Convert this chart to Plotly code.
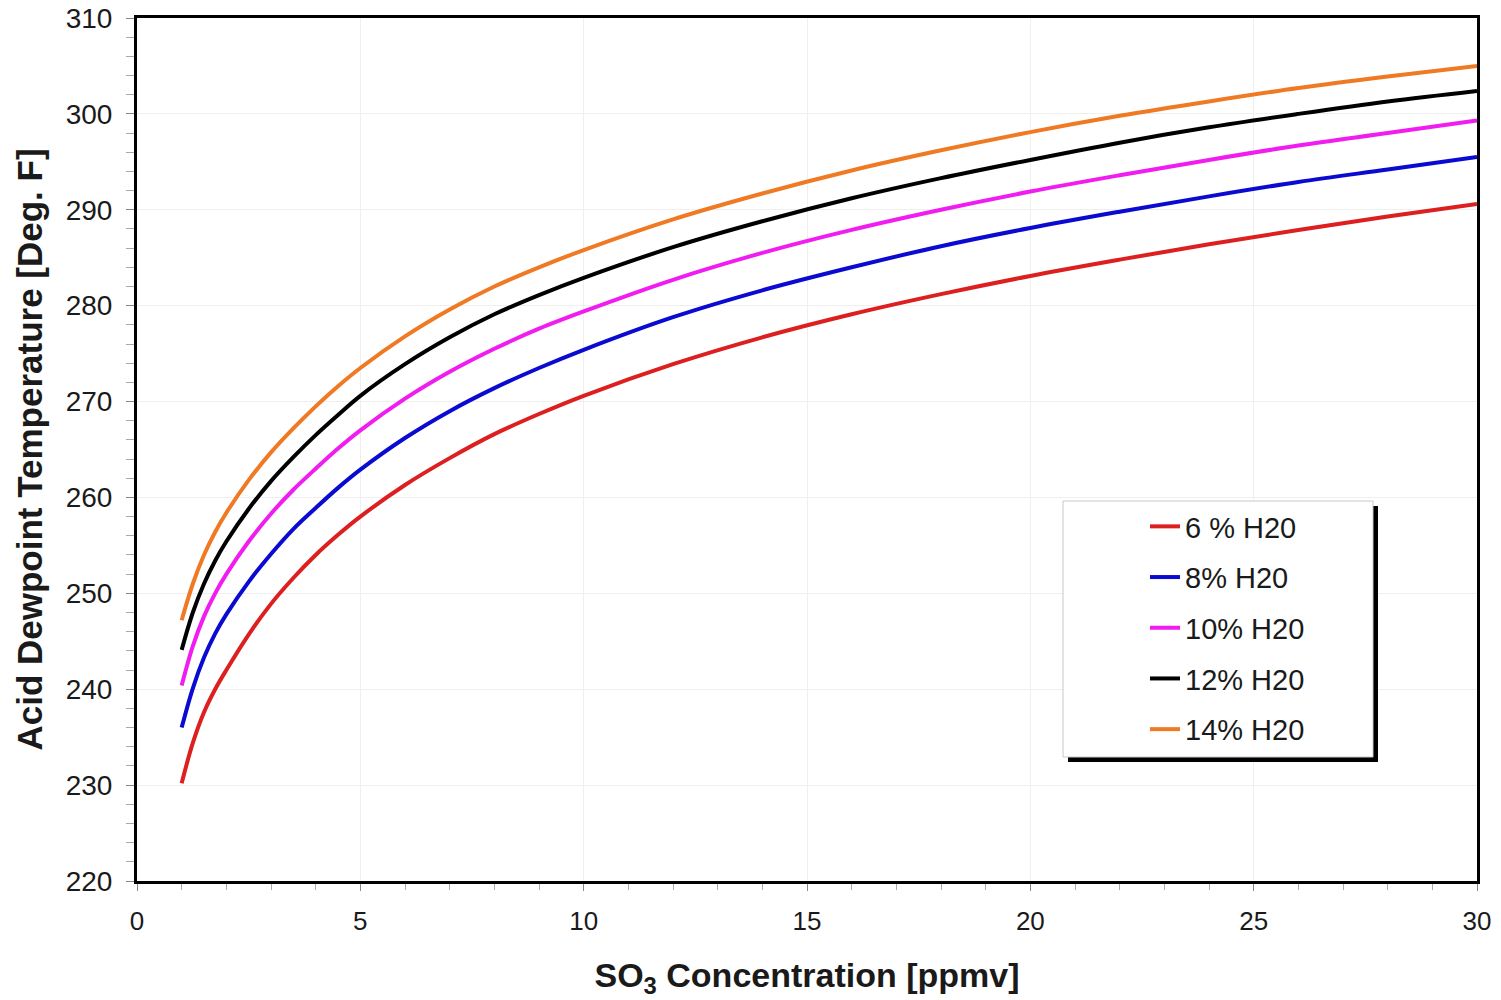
import plotly.graph_objects as go

so3_ppmv = [1, 1.25, 1.5, 1.75, 2, 2.5, 3, 3.5, 4, 4.5, 5, 6, 7, 8, 9, 10,
            12, 14, 16, 18, 20, 22, 24, 26, 28, 30]

h2o_6 = [230.2, 234.4, 237.6, 240.0, 242.0, 245.7, 248.9, 251.6, 254.0, 256.1, 258.0,
         261.3, 264.1, 266.6, 268.7, 270.6, 273.9, 276.7, 279.1, 281.2, 283.1,
         284.8, 286.4, 287.9, 289.3, 290.6]
h2o_8 = [236.0, 240.1, 243.3, 245.8, 247.8, 251.2, 254.1, 256.7, 258.9, 261.0, 262.9,
         266.2, 269.0, 271.4, 273.5, 275.4, 278.8, 281.6, 284.0, 286.2, 288.1,
         289.8, 291.4, 292.9, 294.2, 295.5]
h2o_10 = [240.4, 244.5, 247.6, 250.0, 252.0, 255.4, 258.3, 260.8, 263.0, 265.1, 267.0,
          270.3, 273.1, 275.5, 277.6, 279.4, 282.7, 285.5, 287.9, 290.0, 291.9,
          293.6, 295.2, 296.7, 298.0, 299.3]
h2o_12 = [244.1, 248.0, 251.0, 253.4, 255.4, 258.8, 261.7, 264.2, 266.5, 268.6, 270.6,
          273.9, 276.7, 279.1, 281.1, 282.9, 286.1, 288.8, 291.2, 293.3, 295.2,
          297.0, 298.6, 300.0, 301.3, 302.4]
h2o_14 = [247.2, 251.0, 254.0, 256.4, 258.4, 261.8, 264.7, 267.2, 269.5, 271.6, 273.5,
          276.8, 279.6, 282.0, 284.0, 285.8, 289.0, 291.7, 294.1, 296.2, 298.1,
          299.8, 301.3, 302.7, 303.9, 305.0]

series_names = ["6 % H20", "8% H20", "10% H20", "12% H20", "14% H20"]
series_values = [h2o_6, h2o_8, h2o_10, h2o_12, h2o_14]
series_colors = ["#dc1f1f", "#0a0ad0", "#f01cf0", "#000000", "#ef7a23"]

x_ticks = [0, 5, 10, 15, 20, 25, 30]
y_ticks = [220, 230, 240, 250, 260, 270, 280, 290, 300, 310]

fig = go.Figure()
for i, (name, vals, col) in enumerate(zip(series_names, series_values, series_colors)):
    fig.add_trace(go.Scatter(
        x=so3_ppmv, y=vals, name=name, mode="lines",
        line=dict(color=col, width=4, shape="spline", smoothing=1.0),
        legendgroup=f"g{i}",
    ))

font_family = "Liberation Sans, Arial, sans-serif"

L, R, T, B = 137, 24, 18, 119
W, H = 1501, 1000
pw, ph = W - L - R, H - T - B

def px_to_paper_x(px):
    return (px - L) / pw

def px_to_paper_y(py):
    return (H - B - py) / ph

# legend box with drop shadow
box_l, box_t, box_r, box_b = 1063, 501, 1373, 757
fig.add_shape(type="rect", xref="paper", yref="paper",
              x0=px_to_paper_x(box_l + 5), x1=px_to_paper_x(box_r + 5),
              y0=px_to_paper_y(box_b + 5), y1=px_to_paper_y(box_t + 5),
              fillcolor="black", line=dict(width=0), layer="above")
fig.add_shape(type="rect", xref="paper", yref="paper",
              x0=px_to_paper_x(box_l), x1=px_to_paper_x(box_r),
              y0=px_to_paper_y(box_b), y1=px_to_paper_y(box_t),
              fillcolor="white", line=dict(width=1, color="#c8c8c8"), layer="above")

fig.update_layout(
    width=W, height=H,
    margin=dict(l=L, r=R, t=T, b=B, autoexpand=False),
    paper_bgcolor="white", plot_bgcolor="white",
    font=dict(family=font_family, color="#1a1a1a"),
    showlegend=True,
    legend=dict(
        x=px_to_paper_x(1145), y=px_to_paper_y(501), xanchor="left", yanchor="top",
        bgcolor="rgba(0,0,0,0)", borderwidth=0,
        font=dict(size=29, family=font_family, color="#1a1a1a"),
        traceorder="grouped", tracegroupgap=10,
    ),
    xaxis=dict(
        range=[0, 30], tickvals=x_ticks, ticktext=[str(v) for v in x_ticks],
        showline=True, linecolor="black", linewidth=3, mirror=True,
        ticks="outside", ticklen=7, tickcolor="#888", tickwidth=1,
        minor=dict(dtick=1, ticks="outside", ticklen=6, tickcolor="#aaa", showgrid=False),
        showgrid=True, gridcolor="#efefef", gridwidth=1, zeroline=False,
        tickfont=dict(size=26, family=font_family, color="#1a1a1a"),
        ticklabelstandoff=8,
        title=dict(text="<b>SO<sub>3</sub> Concentration [ppmv]</b>",
                   font=dict(size=34, family=font_family, color="#1a1a1a"), standoff=28),
    ),
    yaxis=dict(
        range=[220, 310], tickvals=y_ticks, ticktext=[str(v) for v in y_ticks],
        showline=True, linecolor="black", linewidth=3, mirror=True,
        ticks="outside", ticklen=8, tickcolor="#888", tickwidth=1,
        minor=dict(dtick=2, ticks="outside", ticklen=8, tickcolor="#aaa", showgrid=False),
        showgrid=True, gridcolor="#efefef", gridwidth=1, zeroline=False,
        tickfont=dict(size=28, family=font_family, color="#1a1a1a"),
        ticklabelstandoff=8,
        title=dict(text="<b>Acid Dewpoint Temperature [Deg. F]</b>",
                   font=dict(size=35, family=font_family, color="#1a1a1a"), standoff=13),
    ),
)

fig.write_html("out.html")
